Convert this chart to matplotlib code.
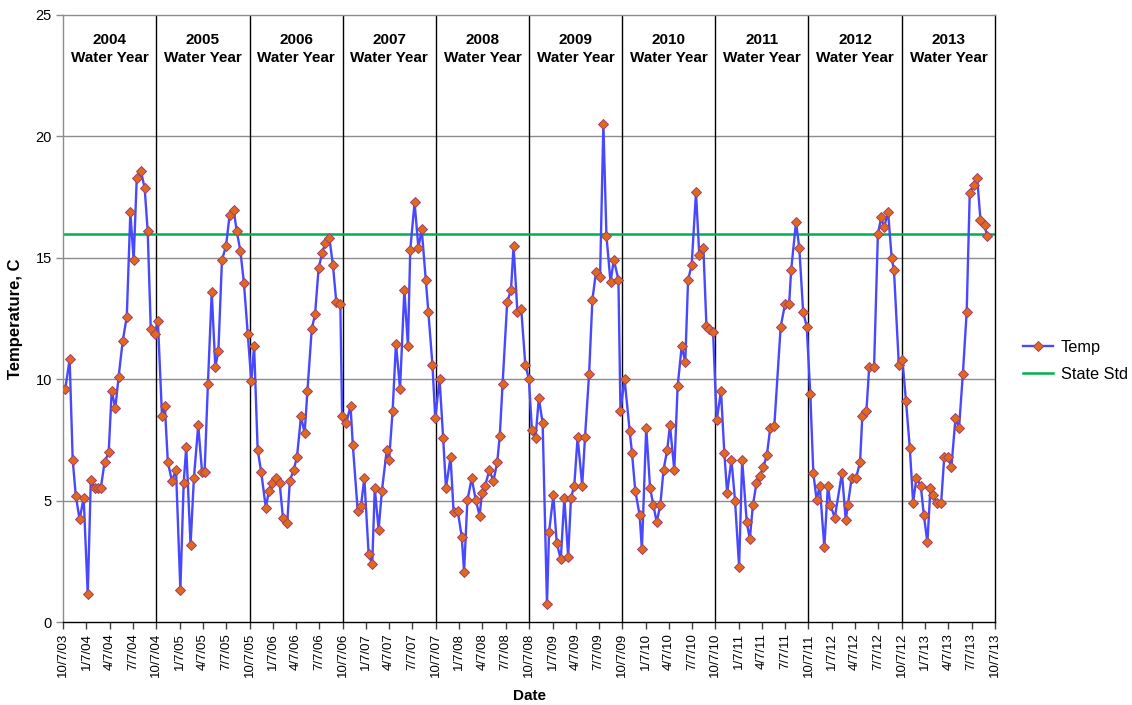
import matplotlib
matplotlib.use("Agg")
import matplotlib.pyplot as plt
import pandas as pd

plt.rcParams['font.family'] = ['Liberation Sans', 'DejaVu Sans']

# ---- data ----
sample_dates = [
    # WY2004
    "2003-10-16", "2003-11-02", "2003-11-14", "2003-11-26", "2003-12-11", "2003-12-27",
    "2004-01-12", "2004-01-24", "2004-02-08", "2004-02-20", "2004-03-03", "2004-03-18",
    "2004-04-03", "2004-04-15", "2004-04-29", "2004-05-12", "2004-05-28", "2004-06-13",
    "2004-06-27", "2004-07-10", "2004-07-22", "2004-08-07", "2004-08-22", "2004-09-03",
    "2004-09-15", "2004-09-30",
    # WY2005
    "2004-10-13", "2004-10-29", "2004-11-09", "2004-11-21", "2004-12-07", "2004-12-23",
    "2005-01-09", "2005-01-22", "2005-02-01", "2005-02-18", "2005-03-03", "2005-03-20",
    "2005-04-04", "2005-04-14", "2005-04-27", "2005-05-12", "2005-05-26", "2005-06-07",
    "2005-06-21", "2005-07-07", "2005-07-21", "2005-08-06", "2005-08-18", "2005-09-01",
    "2005-09-15", "2005-09-30",
    # WY2006
    "2005-10-14", "2005-10-25", "2005-11-08", "2005-11-22", "2005-12-10", "2005-12-22",
    "2006-01-03", "2006-01-17", "2006-02-02", "2006-02-15", "2006-03-04", "2006-03-14",
    "2006-03-29", "2006-04-11", "2006-04-27", "2006-05-11", "2006-05-22", "2006-06-08",
    "2006-06-21", "2006-07-05", "2006-07-19", "2006-07-30", "2006-08-16", "2006-08-30",
    "2006-09-12", "2006-09-28", "2006-10-05",
    # WY2007
    "2006-10-21", "2006-11-07", "2006-11-16", "2006-12-05", "2006-12-18", "2006-12-31",
    "2007-01-17", "2007-01-31", "2007-02-10", "2007-02-25", "2007-03-10", "2007-03-29",
    "2007-04-07", "2007-04-21", "2007-05-04", "2007-05-20", "2007-06-06", "2007-06-20",
    "2007-06-29", "2007-07-16", "2007-07-31", "2007-08-13", "2007-08-29", "2007-09-08",
    "2007-09-24", "2007-10-05",
    # WY2008
    "2007-10-22", "2007-11-05", "2007-11-16", "2007-12-04", "2007-12-16", "2008-01-01",
    "2008-01-17", "2008-01-26", "2008-02-08", "2008-02-25", "2008-03-12", "2008-03-27",
    "2008-04-05", "2008-04-18", "2008-05-04", "2008-05-20", "2008-06-04", "2008-06-14",
    "2008-06-25", "2008-07-13", "2008-07-28", "2008-08-07", "2008-08-22", "2008-09-06",
    "2008-09-22", "2008-10-06",
    # WY2009
    "2008-10-18", "2008-11-01", "2008-11-14", "2008-11-29", "2008-12-16", "2008-12-24",
    "2009-01-10", "2009-01-23", "2009-02-08", "2009-02-22", "2009-03-09", "2009-03-20",
    "2009-04-02", "2009-04-15", "2009-05-03", "2009-05-14", "2009-05-30", "2009-06-12",
    "2009-06-26", "2009-07-12", "2009-07-25", "2009-08-06", "2009-08-22", "2009-09-04",
    "2009-09-22", "2009-09-30",
    # WY2010
    "2009-10-16", "2009-11-05", "2009-11-14", "2009-11-27", "2009-12-14", "2009-12-23",
    "2010-01-09", "2010-01-24", "2010-02-06", "2010-02-19", "2010-03-05", "2010-03-18",
    "2010-04-01", "2010-04-12", "2010-04-29", "2010-05-12", "2010-05-28", "2010-06-11",
    "2010-06-22", "2010-07-06", "2010-07-23", "2010-08-05", "2010-08-21", "2010-09-02",
    "2010-09-11", "2010-09-28",
    # WY2011
    "2010-10-12", "2010-10-29", "2010-11-11", "2010-11-22", "2010-12-09", "2010-12-23",
    "2011-01-08", "2011-01-20", "2011-02-07", "2011-02-19", "2011-03-03", "2011-03-17",
    "2011-03-30", "2011-04-13", "2011-04-27", "2011-05-10", "2011-05-26", "2011-06-20",
    "2011-07-07", "2011-07-23", "2011-07-31", "2011-08-19", "2011-09-01", "2011-09-16",
    "2011-09-30",
    # WY2012
    "2011-10-14", "2011-10-26", "2011-11-08", "2011-11-20", "2011-12-08", "2011-12-22",
    "2012-01-01", "2012-01-18", "2012-02-15", "2012-03-01", "2012-03-09", "2012-03-24",
    "2012-04-10", "2012-04-26", "2012-05-05", "2012-05-21", "2012-06-01", "2012-06-20",
    "2012-07-05", "2012-07-18", "2012-07-29", "2012-08-14", "2012-08-28", "2012-09-06",
    "2012-09-25",
    # WY2013
    "2012-10-09", "2012-10-23", "2012-11-07", "2012-11-20", "2012-12-03", "2012-12-20",
    "2013-01-01", "2013-01-15", "2013-01-27", "2013-02-06", "2013-02-22", "2013-03-10",
    "2013-03-22", "2013-04-06", "2013-04-19", "2013-05-05", "2013-05-19", "2013-06-03",
    "2013-06-18", "2013-06-30", "2013-07-16", "2013-07-29", "2013-08-11", "2013-08-27",
    "2013-09-06",
]

temp_c = [
    # WY2004
    9.60, 10.82, 6.68, 5.21, 4.23, 5.11,
    1.14, 5.84, 5.51, 5.51, 5.51, 6.58,
    6.99, 9.53, 8.80, 10.11, 11.57, 12.58,
    16.87, 14.90, 18.28, 18.59, 17.88, 16.09,
    12.07, 11.87,
    # WY2005
    12.38, 8.49, 8.90, 6.58, 5.81, 6.26,
    1.32, 5.73, 7.20, 3.17, 5.92, 8.10,
    6.18, 6.18, 9.81, 13.59, 10.49, 11.17,
    14.90, 15.49, 16.76, 16.96, 16.09, 15.30,
    13.98, 11.88,
    # WY2006
    9.93, 11.37, 7.09, 6.17, 4.70, 5.41,
    5.71, 5.92, 5.74, 4.30, 4.09, 5.81,
    6.26, 6.79, 8.49, 7.77, 9.51, 12.07,
    12.68, 14.59, 15.19, 15.59, 15.81, 14.70,
    13.20, 13.09, 8.49,
    # WY2007
    8.19, 8.90, 7.28, 4.59, 4.79, 5.92,
    2.79, 2.38, 5.52, 3.80, 5.41, 7.09,
    6.66, 8.70, 11.47, 9.60, 13.68, 11.36,
    15.32, 17.28, 15.41, 16.17, 14.09, 12.77,
    10.60, 8.40,
    # WY2008
    10.01, 7.58, 5.52, 6.80, 4.52, 4.59,
    3.49, 2.07, 5.01, 5.92, 5.01, 4.38,
    5.32, 5.62, 6.26, 5.81, 6.58, 7.68,
    9.81, 13.17, 13.68, 15.49, 12.77, 12.90,
    10.60, 10.01,
    # WY2009
    7.91, 7.58, 9.22, 8.19, 0.73, 3.70,
    5.22, 3.27, 2.58, 5.11, 2.69, 5.11,
    5.62, 7.61, 5.62, 7.61, 10.21, 13.28,
    14.40, 14.20, 20.51, 15.91, 14.00, 14.92,
    14.09, 8.70,
    # WY2010
    10.01, 7.88, 6.98, 5.41, 4.41, 2.99,
    8.01, 5.52, 4.82, 4.11, 4.81, 6.28,
    7.07, 8.10, 6.26, 9.70, 11.36, 10.71,
    14.09, 14.70, 17.69, 15.10, 15.40, 12.18,
    12.05, 11.96,
    # WY2011
    8.30, 9.51, 6.98, 5.32, 6.68, 5.00,
    2.28, 6.68, 4.11, 3.41, 4.81, 5.71,
    6.02, 6.37, 6.88, 7.99, 8.08, 12.17,
    13.09, 13.08, 14.49, 16.47, 15.40, 12.77,
    12.17,
    # WY2012
    9.41, 6.13, 5.01, 5.62, 3.08, 5.62,
    4.81, 4.30, 6.13, 4.20, 4.81, 5.92,
    5.92, 6.58, 8.49, 8.70, 10.51, 10.51,
    15.99, 16.66, 16.25, 16.88, 14.99, 14.49,
    10.60,
    # WY2013
    10.81, 9.11, 7.18, 4.92, 5.92, 5.62,
    4.41, 3.28, 5.52, 5.22, 4.92, 4.92,
    6.79, 6.79, 6.37, 8.39, 7.99, 10.21,
    12.77, 17.68, 17.98, 18.28, 16.57, 16.36,
    15.88,
]

state_std = 16.0
water_years = [2004, 2005, 2006, 2007, 2008, 2009, 2010, 2011, 2012, 2013]
y_ticks = [0, 5, 10, 15, 20, 25]

# ---- figure ----
W, H = 1132, 705
fig = plt.figure(figsize=(W / 100, H / 100), dpi=100)
ax = fig.add_axes([63 / W, 1 - 622 / H, 932 / W, 607 / H])

dates = pd.to_datetime(sample_dates)
x_start = pd.Timestamp("2003-10-07")
x_end = pd.Timestamp("2013-10-07")

# horizontal gridlines
for yv in y_ticks[1:-1]:
    ax.axhline(yv, color="#8c8c8c", lw=1.0, zorder=1)

# water-year boundaries
for wy in water_years[:-1]:
    ax.axvline(pd.Timestamp(f"{wy}-10-07"), color="black", lw=1.0, zorder=1)

ax.axhline(state_std, color="#00B050", lw=1.8, zorder=2, label="State Std")
ax.plot(dates, temp_c, color="#4848FF", lw=1.7, marker="D", ms=5.5,
        mfc="#E2681C", mec="#9B4070", mew=0.7, zorder=3, label="Temp")

# water year labels
for wy in water_years:
    a = pd.Timestamp(f"{wy - 1}-10-07")
    b = pd.Timestamp(f"{wy}-10-07")
    mid = a + (b - a) / 2
    ax.text(mid, 23.97, str(wy), ha="center", va="center", fontsize=11, fontweight="bold")
    ax.text(mid, 23.23, "Water Year", ha="center", va="center", fontsize=11, fontweight="bold")

ax.set_xlim(x_start, x_end)
ax.set_ylim(0, 25)

# quarterly ticks
ticks = []
for yr in range(2003, 2014):
    for m in (1, 4, 7, 10):
        t = pd.Timestamp(yr, m, 7)
        if x_start <= t <= x_end:
            ticks.append(t)
ax.set_xticks(ticks)
ax.set_xticklabels([f"{t.month}/{t.day}/{t.strftime('%y')}" for t in ticks],
                   rotation=90, fontsize=9.5)
ax.set_yticks(y_ticks)
ax.set_yticklabels([str(v) for v in y_ticks], fontsize=10.5)
ax.tick_params(axis="x", direction="out", length=5, width=1, color="#404040", pad=3)
ax.tick_params(axis="y", direction="out", length=5, width=1, color="#8c8c8c", pad=3)

for side in ("left", "top"):
    ax.spines[side].set_color("#8c8c8c")
for side in ("right", "bottom"):
    ax.spines[side].set_color("black")
for s in ax.spines.values():
    s.set_linewidth(1.0)

ax.set_xlabel("Date", fontsize=11, fontweight="bold", labelpad=8)
ax.set_ylabel("Temperature, C", fontsize=12, fontweight="bold", labelpad=9)

handles, labels = ax.get_legend_handles_labels()
order = [labels.index("Temp"), labels.index("State Std")]
fig.legend([handles[i] for i in order], [labels[i] for i in order],
           loc="center left", bbox_to_anchor=(1008 / W, 1 - 361 / H),
           frameon=False, fontsize=11.7, handlelength=1.85, labelspacing=0.75,
           handletextpad=0.5)

fig.savefig("out.png", dpi=100)
